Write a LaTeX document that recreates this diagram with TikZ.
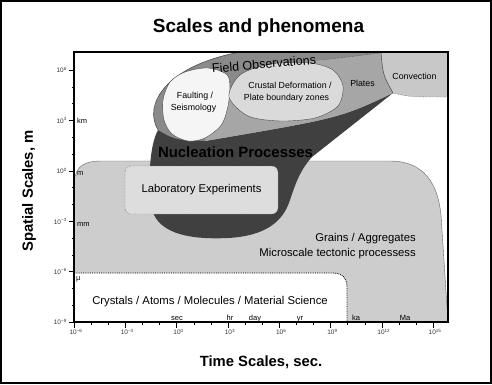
\documentclass[tikz,border=0pt]{standalone}
\usepackage{fontspec}
\setmainfont{Liberation Sans}
\usepackage{xcolor}
\definecolor{grainsgray}{HTML}{CDCDCD}
\definecolor{labgray}{HTML}{DDDDDD}
\definecolor{fieldgray}{HTML}{8A8A8A}
\definecolor{nuclgray}{HTML}{404040}
\definecolor{platesgray}{HTML}{A6A6A6}
\definecolor{convgray}{HTML}{C8C8C8}
\definecolor{crustgray}{HTML}{DADADA}
\definecolor{faultgray}{HTML}{F5F5F5}

\begin{document}
\begin{tikzpicture}[x=1pt,y=-1pt,
    ticklbl/.style={font=\fontsize{6.5}{7}\selectfont,text=black!80,inner sep=0pt},
    unitlbl/.style={font=\fontsize{7.5}{8}\selectfont,inner sep=0pt},
    regionlbl/.style={font=\fontsize{8.8}{10}\selectfont,inner sep=0pt,anchor=base},
    textlbl/.style={font=\fontsize{11.3}{12}\selectfont,inner sep=0pt,anchor=base},
    labbox/.style={draw=black!75,densely dotted,fill=labgray,rounded corners=6pt,
        minimum width=153pt,minimum height=48pt,inner sep=0pt,
        font=\fontsize{11.3}{12}\selectfont},
    axislbl/.style={font=\bfseries\fontsize{14.8}{16}\selectfont,inner sep=0pt}]
    \useasboundingbox (0,0) rectangle (492,384);
    \draw[line width=1.5pt] (1,1) rectangle (491,383);
    \node[font=\bfseries\fontsize{19}{20}\selectfont,anchor=base,inner sep=0pt] (title) at (258.5,32) {Scales and phenomena};

    % grains region and the crystals corner
    \fill[grainsgray] (74,273) -- (74,182) .. controls (76,165) and (85,161) .. (102,161) -- (390,161)
        .. controls (425,161) and (438,185) .. (441,215) -- (448,322) -- (347,322) -- (347,287)
        .. controls (347,278) and (342,273) .. (333,273) -- cycle;
    \draw[black!60,thin] (74,182) .. controls (76,165) and (85,161) .. (102,161) -- (390,161)
        .. controls (425,161) and (438,185) .. (441,215) -- (448,322);
    \draw[densely dotted,thick] (74,273) -- (333,273) .. controls (342,273) and (347,278) .. (347,287) -- (347,322);

    % field observations
    \fill[fieldgray] (158,130) .. controls (143,105) and (165,66) .. (240,52) -- (381,52)
        .. controls (383,75) .. (393,93) .. controls (340,118) .. (205,141) .. controls (180,143) .. cycle;
    \draw[black!80,thin] (158,130) .. controls (143,105) and (165,66) .. (240,52);

    % nucleation
    \fill[nuclgray] (393,93) -- (312,157) .. controls (300,170) and (295,185) .. (290,200)
        .. controls (283,222) and (265,236) .. (228,238) .. controls (185,240) and (155,232) .. (151,205)
        .. controls (148,175) and (150,145) .. (158,130) .. controls (175,140) .. (205,141)
        .. controls (340,118) .. (393,93) -- cycle;

    % plates
    \fill[platesgray] (300,62) -- (323,60) -- (381,53) .. controls (383,75) .. (393,93)
        .. controls (340,118) .. (205,141) -- (215,100) -- cycle;
    \draw[densely dotted,black!80] (323,60) -- (381,53);

    % faulting / seismology
    \draw[black!70,thin,fill=faultgray] plot[smooth cycle] coordinates {(163,100) (170,82) (185,72)
        (208,68) (228,76) (229,100) (222,124) (205,138) (188,141) (172,134) (164,120)};

    % crustal deformation
    \draw[black!70,thin,fill=crustgray] plot[smooth cycle] coordinates {(229,97) (240,75) (270,64)
        (310,63) (333,70) (343,86) (338,106) (315,118) (280,121) (248,116)};

    % convection
    \fill[convgray] (381,52) .. controls (383,75) .. (393,93) .. controls (410,97) .. (448,97) -- (448,52) -- cycle;
    \draw[black!80,thin] (381,52) .. controls (383,75) .. (393,93);
    \draw[black!80,densely dotted] (393,93) .. controls (410,97) .. (448,97);

    \node[labbox] (lab) at (201.5,190) {Laboratory Experiments};

    % frame and ticks
    \draw[line width=1.1pt] (74,52) rectangle (448,322);
    \foreach \e in {-9,...,6}
        \draw[thin] (74,{322-(\e+9)*16.8}) -- (71.5,{322-(\e+9)*16.8});
    \foreach \e in {-6,...,15}
        \draw[thin] ({74+(\e+6)*17.1},322) -- ({74+(\e+6)*17.1},324.5);
    \foreach \e/\s [count=\i] in {-9/−9,-6/−6,-3/−3,0/0,3/3,6/6} {
        \draw[thin] (74,{322-(\e+9)*16.8}) -- (68.5,{322-(\e+9)*16.8});
        \node[ticklbl,anchor=east] (ytick\i) at (67,{322-(\e+9)*16.8}) {10\textsuperscript{\s}};
    }
    \foreach \e/\s [count=\i] in {-6/−6,-3/−3,0/0,3/3,6/6,9/9,12/12,15/15} {
        \draw[thin] ({74+(\e+6)*17.1},322) -- ({74+(\e+6)*17.1},328);
        \node[ticklbl] (xtick\i) at ({76+(\e+6)*17.1},332) {10\textsuperscript{\s}};
    }

    % unit labels
    \node[unitlbl,anchor=west] (km) at (77,121) {km};
    \node[unitlbl,anchor=west] (m) at (77,173) {m};
    \node[unitlbl,anchor=west] (mm) at (77,224) {mm};
    \node[unitlbl,anchor=west] (mu) at (76,279) {µ};
    \foreach \t/\x in {sec/177,hr/230,day/255,yr/300,ka/356,Ma/405}
        \node[unitlbl,anchor=base] (t\t) at (\x,320) {\t};

    % region texts
    \node[font=\fontsize{12.5}{13}\selectfont,inner sep=0pt,rotate=5] (field) at (264,64) {Field Observations};
    \node[regionlbl] (fault1) at (195,98) {Faulting /};
    \node[regionlbl] (fault2) at (193.5,110) {Seismology};
    \node[regionlbl] (crust1) at (290,88) {Crustal Deformation /};
    \node[regionlbl] (crust2) at (286.5,100.5) {Plate boundary zones};
    \node[regionlbl] (plates) at (362.5,86) {Plates};
    \node[regionlbl] (conv) at (414.5,79.5) {Convection};
    \node[font=\bfseries\fontsize{14.9}{16}\selectfont,inner sep=0pt,anchor=base] (nucl) at (235.5,157) {Nucleation Processes};
    \node[textlbl,anchor=base east] (grains1) at (416,241.5) {Grains / Aggregates};
    \node[textlbl,anchor=base east] (grains2) at (416,256.5) {Microscale tectonic processess};
    \node[textlbl] (cryst) at (210,304) {Crystals / Atoms / Molecules / Material Science};

    % axis titles
    \node[axislbl,rotate=90] (ylab) at (29,191) {Spatial Scales, m};
    \node[axislbl,anchor=base] (xlab) at (261,366) {Time Scales, sec.};
\end{tikzpicture}
\end{document}
